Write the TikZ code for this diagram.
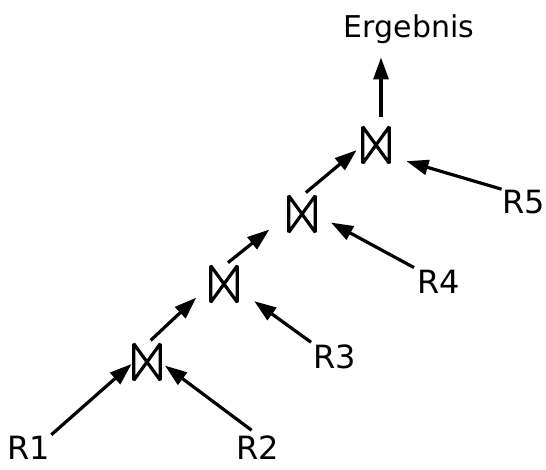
\documentclass[tikz,border=0pt]{standalone}
\usepackage{fontspec}
\setmainfont{DejaVu Sans}
\usetikzlibrary{arrows.meta}

\begin{document}
\begin{tikzpicture}[x=1pt, y=-1pt,
  joinbox/.style={minimum width=26pt, minimum height=36pt, inner sep=0pt},
  bowtie/.style={line width=3.2pt, line join=bevel},
  rel/.style={inner sep=0pt, anchor=base, font=\fontsize{32}{36}\selectfont},
  arr/.style={line width=3.2pt, -{Triangle[length=22pt, width=15pt]}}]

\useasboundingbox (0,0) rectangle (546,469);

\node[inner sep=0pt, anchor=base, font=\fontsize{30}{34}\selectfont] (erg) at (409,37) {Ergebnis};

\node[joinbox] (j1) at (147,362) {};
\node[joinbox] (j2) at (224,284) {};
\node[joinbox] (j3) at (302,214) {};
\node[joinbox] (j4) at (376,145) {};
\foreach \j in {j1,j2,j3,j4}
  \draw[bowtie] (\j.north west) -- (\j.south west) -- (\j.north east) -- (\j.south east) -- cycle;

\node[rel] (R1) at (29,459) {R1};
\node[rel] (R2) at (258,459) {R2};
\node[rel] (R3) at (335,368) {R3};
\node[rel] (R4) at (439,293) {R4};
\node[rel] (R5) at (524,213) {R5};

\draw[arr, shorten <=1pt, shorten >=3pt] (R1.north east) -- (j1.west);
\draw[arr, shorten <=8pt, shorten >=6pt] (R2.north) -- (j1.east);
\draw[arr, shorten <=3pt, shorten >=21pt] (R3.north west) -- (j2.-20);
\draw[arr, shorten <=4pt, shorten >=18pt] (R4.north west) -- (j3.east);
\draw[arr, shorten <=1pt, shorten >=18pt] (R5.north west) -- (j4.-40);

\draw[arr, shorten <=5pt, shorten >=20pt] (j1.north) -- (j2.west);
\draw[arr, shorten <=5pt, shorten >=25pt] (j2.north) -- (j3.west);
\draw[arr, shorten <=5pt, shorten >=8pt] (j3.north) -- (j4.west);
\draw[arr, shorten >=14pt] ([xshift=5pt,yshift=10pt]j4.north) -- ([xshift=5pt]j4.north |- erg.south);
\end{tikzpicture}
\end{document}
